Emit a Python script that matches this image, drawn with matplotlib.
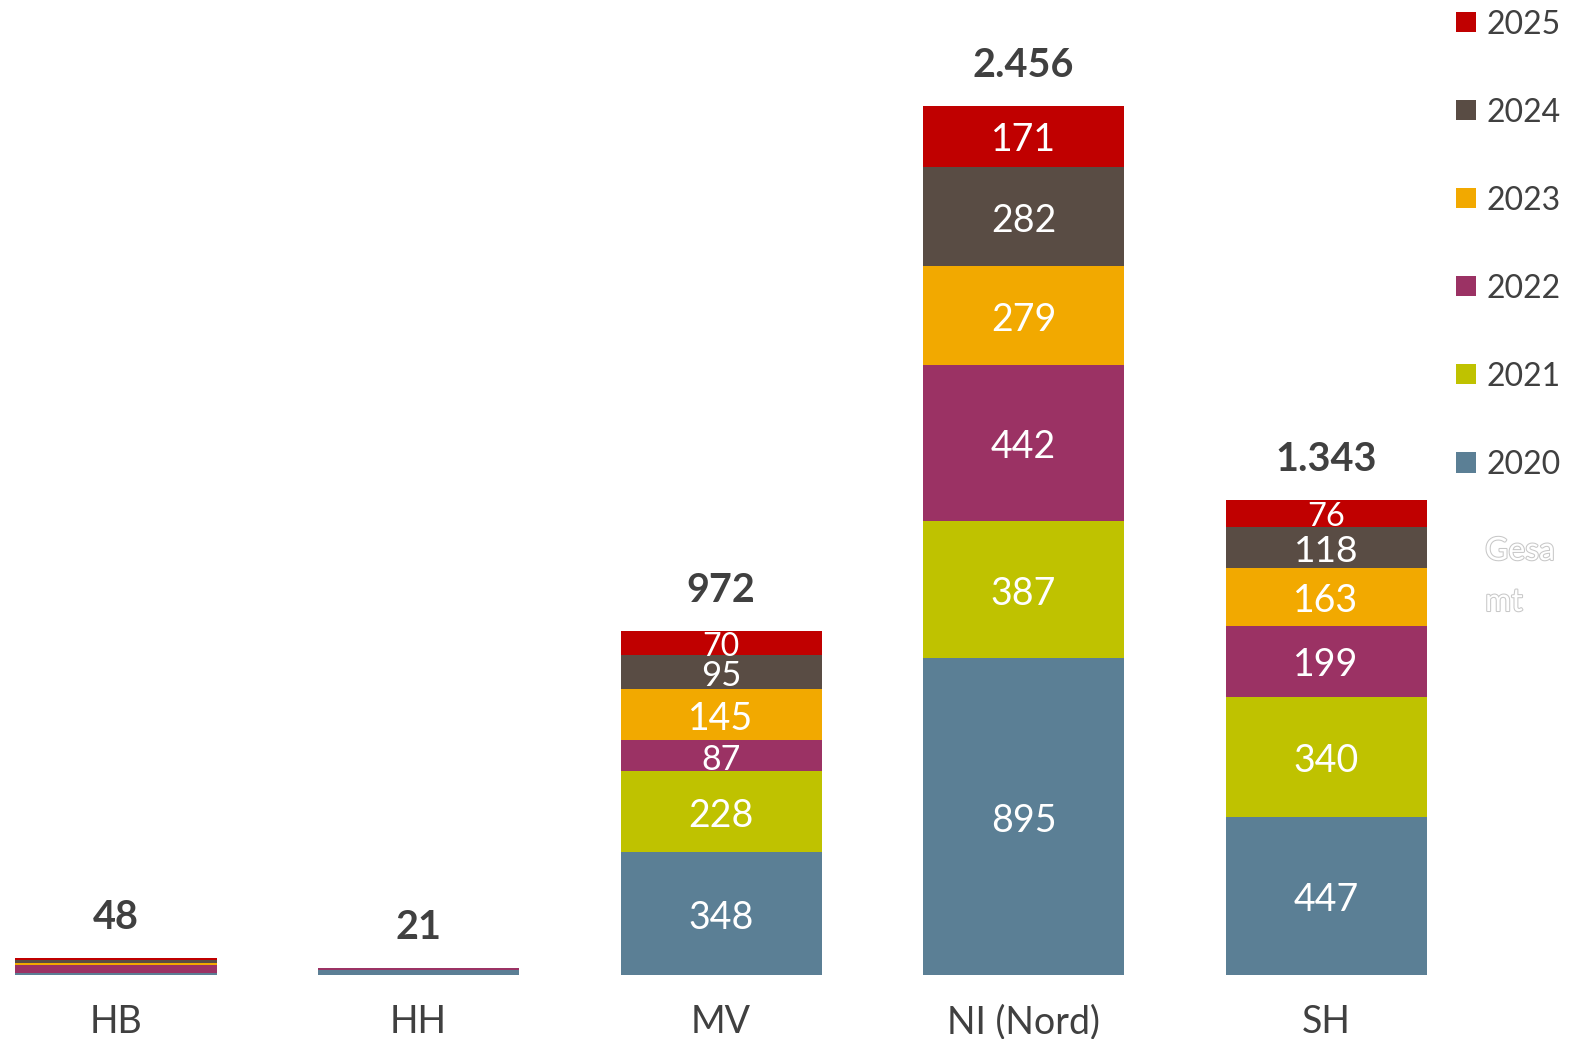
import matplotlib
matplotlib.use("Agg")
import matplotlib.pyplot as plt
from matplotlib.patches import Rectangle
import matplotlib.patheffects as pe
import numpy as np

plt.rcParams['font.family'] = ['Lato', 'DejaVu Sans']

categories = ['HB', 'HH', 'MV', 'NI (Nord)', 'SH']
years = ['2020', '2021', '2022', '2023', '2024', '2025']
y2020 = [5, 14, 348, 895, 447]
y2021 = [1, 1, 228, 387, 340]
y2022 = [23, 5, 87, 442, 199]
y2023 = [4, 0, 145, 279, 163]
y2024 = [9, 1, 95, 282, 118]
y2025 = [6, 0, 70, 171, 76]
totals = [48, 21, 972, 2456, 1343]
show_segment_labels = [False, False, True, True, True]

series = [y2020, y2021, y2022, y2023, y2024, y2025]
colors = ['#5B7F95', '#BFC200', '#9B3264', '#F2A900', '#594C44', '#C00000']

W, H = 1577, 1039
fig = plt.figure(figsize=(W / 100, H / 100), dpi=100)
fig.patch.set_facecolor('white')

base_px = 975
ax = fig.add_axes([0, (H - base_px) / H, 1, base_px / H])
ax.set_facecolor('white')
px_per_unit = 869 / 2456
ax.set_ylim(0, base_px / px_per_unit)
spacing = 302.5
c0 = 116
ax.set_xlim(-c0 / spacing, (W - c0) / spacing)
ax.axis('off')

x = np.arange(len(categories))
width = 201 / spacing
bottom = np.zeros(len(categories))
for vals, col in zip(series, colors):
    vals = np.array(vals, dtype=float)
    ax.bar(x, vals, width, bottom=bottom, color=col, edgecolor='none', linewidth=0)
    for i, v in enumerate(vals):
        if show_segment_labels[i] and v > 0:
            fs = min(27.0, 17.4 + 0.08 * v)  # shrink labels in thin segments
            ax.annotate(f"{int(v)}", xy=(x[i], bottom[i] + v / 2), xytext=(0, -3.0),
                        textcoords='offset points', ha='center', va='center',
                        color='white', fontsize=fs)
    bottom += vals

def fmt(n):
    return f"{n:,}".replace(',', '.')

for i, t in enumerate(totals):
    ax.annotate(fmt(t), xy=(x[i], bottom[i]), xytext=(0, 29), textcoords='offset points',
                ha='center', va='center', fontsize=28.5, fontweight='bold', color='#404040')
    ax.annotate(categories[i], xy=(x[i], 0), xytext=(0, -42), textcoords='offset points',
                ha='center', va='baseline', fontsize=27, color='#404040')

# legend (top to bottom: 2025 ... 2020)
to_fig = lambda px, py: (px / W, 1 - py / H)
for k, (yr, col) in enumerate(zip(years[::-1], colors[::-1])):
    cy = 22 + k * 88.1
    x0, y0 = to_fig(1456, cy + 10)
    fig.add_artist(Rectangle((x0, y0), 20 / W, 20 / H, transform=fig.transFigure,
                             facecolor=col, edgecolor='none'))
    fx, fy = to_fig(1487, cy + 3)
    fig.text(fx, fy, yr, ha='left', va='center', fontsize=23, color='#404040')

for txt, cy in [('Gesa', 551), ('mt', 602)]:
    fx, fy = to_fig(1485, cy)
    fig.text(fx, fy, txt, ha='left', va='center', fontsize=23, color='white',
             path_effects=[pe.withStroke(linewidth=1.5, foreground='#c8c8c8')])

fig.savefig('out.png', dpi=100, facecolor='white')
